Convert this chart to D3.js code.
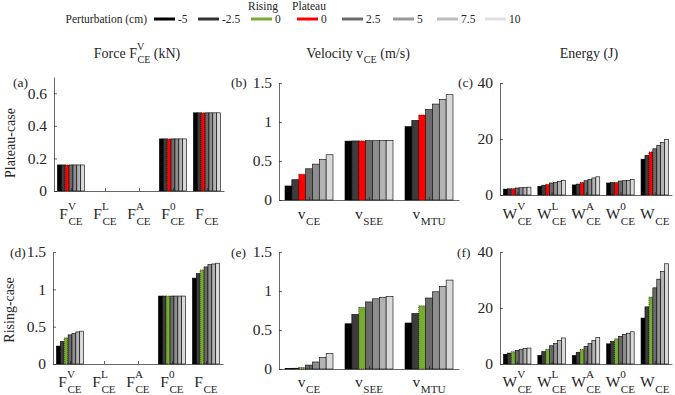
<!DOCTYPE html>
<html>
<head>
<meta charset="utf-8">
<script src="https://d3js.org/d3.v7.min.js"></script>
<style>
  body { margin: 0; background: #fff; }
  svg text { font-family: "Liberation Serif", "Times New Roman", serif; fill: #262626; white-space: pre; }
</style>
</head>
<body>
<svg id="chart" width="675" height="395"></svg>
<script>
// perturbation levels (cm), one bar per level in every group
const perturbations = ['-5', '-2.5', '0', '2.5', '5', '7.5', '10'];
const barColors = ['#000000', '#3c3c3c', null, '#6b6b6b', '#8e8e8e', '#b3b3b3', '#dadada'];
const risingColor = '#77ac30';
const plateauColor = '#ff0000';

// legend entries
const legendLabels = ['-5', '-2.5', '0', '0', '2.5', '5', '7.5', '10'];
const legendColors = ['#000000', '#333333', risingColor, plateauColor, '#6b6b6b', '#999999', '#bdbdbd', '#e0e0e0'];
const legendHeads = ['', '', 'Rising', 'Plateau', '', '', '', ''];

// tick labels: [base, superscript, subscript]
const forceLabels = [['F', 'V', 'CE'], ['F', 'L', 'CE'], ['F', 'A', 'CE'], ['F', '0', 'CE'], ['F', '', 'CE']];
const velocityLabels = [['v', '', 'CE'], ['v', '', 'SEE'], ['v', '', 'MTU']];
const energyLabels = [['W', 'V', 'CE'], ['W', 'L', 'CE'], ['W', 'A', 'CE'], ['W', '0', 'CE'], ['W', '', 'CE']];

// plateau case
const plateauForce = [
  [0.16, 0.16, 0.16, 0.16, 0.16, 0.16, 0.16],
  [0, 0, 0, 0, 0, 0, 0],
  [0, 0, 0, 0, 0, 0, 0],
  [0.32, 0.32, 0.32, 0.32, 0.32, 0.32, 0.32],
  [0.48, 0.48, 0.48, 0.48, 0.48, 0.48, 0.48]
];
const plateauVelocity = [
  [0.18, 0.26, 0.33, 0.40, 0.46, 0.52, 0.58],
  [0.755, 0.757, 0.758, 0.76, 0.76, 0.762, 0.763],
  [0.94, 1.02, 1.09, 1.16, 1.23, 1.29, 1.35]
];
const plateauEnergy = [
  [2.1, 2.2, 2.3, 2.5, 2.6, 2.7, 2.8],
  [3.1, 3.5, 3.8, 4.3, 4.5, 4.9, 5.2],
  [3.6, 3.9, 4.5, 5.1, 5.6, 6.1, 6.5],
  [4.3, 4.4, 4.5, 5.0, 5.1, 5.2, 5.5],
  [12.8, 14.2, 15.4, 16.5, 17.7, 18.8, 19.9]
];

// rising case
const risingForce = [
  [0.24, 0.30, 0.35, 0.39, 0.41, 0.43, 0.44],
  [0, 0, 0, 0, 0, 0, 0],
  [0, 0, 0, 0, 0, 0, 0],
  [0.91, 0.91, 0.91, 0.91, 0.91, 0.91, 0.91],
  [1.15, 1.21, 1.26, 1.30, 1.33, 1.34, 1.35]
];
const risingVelocity = [
  [0.005, 0.01, 0.02, 0.05, 0.09, 0.15, 0.20],
  [0.58, 0.70, 0.79, 0.86, 0.90, 0.92, 0.93],
  [0.59, 0.71, 0.81, 0.91, 0.99, 1.06, 1.14]
];
const risingEnergy = [
  [3.5, 3.9, 4.4, 4.9, 5.2, 5.5, 5.7],
  [3.1, 4.4, 5.3, 6.5, 7.4, 8.4, 9.3],
  [3.0, 4.2, 5.2, 6.3, 7.3, 8.4, 9.4],
  [7.2, 8.1, 9.0, 9.9, 10.5, 11.0, 11.5],
  [16.4, 20.4, 23.9, 27.2, 30.3, 33.1, 35.8]
];

const panels = [
  { tag: '(a)', data: plateauForce, labels: forceLabels, max: 0.7, ticks: [0, 0.2, 0.4, 0.6], mid: plateauColor, x: [54, 224], y: [77, 191], tagX: 13, row: 0 },
  { tag: '(b)', data: plateauVelocity, labels: velocityLabels, max: 1.5, ticks: [0, 0.5, 1, 1.5], mid: plateauColor, x: [279, 459], y: [83, 200], tagX: 231, row: 0 },
  { tag: '(c)', data: plateauEnergy, labels: energyLabels, max: 40, ticks: [0, 20, 40], mid: plateauColor, x: [500, 672], y: [83, 195], tagX: 458, row: 0 },
  { tag: '(d)', data: risingForce, labels: forceLabels, max: 1.5, ticks: [0, 0.5, 1, 1.5], mid: risingColor, x: [53, 223], y: [252, 364], tagX: 10, row: 1 },
  { tag: '(e)', data: risingVelocity, labels: velocityLabels, max: 1.5, ticks: [0, 0.5, 1, 1.5], mid: risingColor, x: [279, 459], y: [252, 369], tagX: 231, row: 1 },
  { tag: '(f)', data: risingEnergy, labels: energyLabels, max: 40, ticks: [0, 20, 40], mid: risingColor, x: [500, 672], y: [252, 364], tagX: 457, row: 1 }
];
const rowLabelY = [219, 387];
const rowTagY = [87, 257];

const svg = d3.select('#chart');
const axisColor = '#262626';
const serif = '"Liberation Serif", "Times New Roman", serif';

// text with stacked super/subscripts; parts: strings or [sup, sub]
function texText(parent, x, y, parts, size, anchor) {
  const g = parent.append('g');
  const small = size * 0.72;
  let cx = 0;
  parts.forEach(p => {
    if (typeof p === 'string') {
      const t = g.append('text').attr('x', cx).attr('y', 0)
        .attr('font-family', serif).attr('font-size', size).text(p);
      cx += t.node().getComputedTextLength();
    } else {
      let w = 0;
      if (p[0]) {
        const s = g.append('text').attr('x', cx).attr('y', -0.6 * size)
          .attr('font-family', serif).attr('font-size', small).text(p[0]);
        w = Math.max(w, s.node().getComputedTextLength());
      }
      if (p[1]) {
        const s = g.append('text').attr('x', cx + 0.5).attr('y', 0.38 * size)
          .attr('font-family', serif).attr('font-size', small).text(p[1]);
        w = Math.max(w, s.node().getComputedTextLength() + 0.5);
      }
      cx += w;
    }
  });
  const shift = anchor === 'middle' ? -cx / 2 : 0;
  g.attr('transform', `translate(${x + shift},${y})`);
  return g;
}

panels.forEach(p => {
  const x0 = d3.scaleBand().domain(d3.range(p.data.length)).range(p.x)
    .paddingInner(0.2).paddingOuter(0.1);
  const x1 = d3.scaleBand().domain(perturbations).range([0, x0.bandwidth()]);
  const y = d3.scaleLinear().domain([0, p.max]).range([p.y[1], p.y[0]]);

  const g = svg.append('g');

  // bars
  const groups = g.selectAll('g.grp').data(p.data).join('g')
    .attr('transform', (d, i) => `translate(${x0(i)},0)`);
  groups.selectAll('rect').data(d => d.map((v, j) => ({ v, j }))).join('rect')
    .attr('x', d => x1(perturbations[d.j]))
    .attr('y', d => y(d.v))
    .attr('width', x1.bandwidth())
    .attr('height', d => y(0) - y(d.v))
    .attr('fill', d => barColors[d.j] || p.mid)
    .attr('stroke', '#000')
    .attr('stroke-width', 0.6)
    .attr('stroke-dasharray', d => barColors[d.j] ? null : '1,1');

  // y axis, ticks pointing inwards
  const ya = g.append('g').attr('transform', `translate(${p.x[0]},0)`)
    .call(d3.axisLeft(y).tickValues(p.ticks).tickFormat(d3.format('~g'))
      .tickSizeInner(-3).tickSizeOuter(0).tickPadding(7));
  ya.attr('font-family', serif).attr('font-size', 15.5);
  ya.selectAll('.tick text').attr('font-family', serif).attr('font-size', 15.5)
    .attr('fill', axisColor);

  // x axis
  const xa = g.append('g').attr('transform', `translate(0,${p.y[1]})`)
    .call(d3.axisBottom(d3.scaleLinear().domain(p.x).range(p.x))
      .tickValues(d3.range(p.data.length).map(i => x0(i) + x0.bandwidth() / 2))
      .tickFormat('').tickSizeInner(-3).tickSizeOuter(0));
  [ya, xa].forEach(a => {
    a.select('.domain').attr('stroke', axisColor).attr('stroke-width', 0.7);
    a.selectAll('.tick line').attr('stroke', axisColor).attr('stroke-width', 0.7);
  });

  // group labels
  p.labels.forEach((l, i) => {
    texText(svg, x0(i) + x0.bandwidth() / 2, rowLabelY[p.row], [l[0], [l[1], l[2]]], 15.5, 'middle');
  });

  // panel tag
  svg.append('text').attr('x', p.tagX).attr('y', rowTagY[p.row])
    .attr('font-family', serif).attr('font-size', 13.5).text(p.tag);
});

// column titles
texText(svg, 137, 58, ['Force F', ['V', 'CE'], ' (kN)'], 14, 'middle');
texText(svg, 358, 58, ['Velocity v', ['', 'CE'], ' (m/s)'], 14, 'middle');
texText(svg, 589, 58, ['Energy (J)'], 14, 'middle');

// row titles
svg.append('text').attr('transform', 'translate(15,143) rotate(-90)')
  .attr('font-family', serif).attr('text-anchor', 'middle').attr('font-size', 14).text('Plateau-case');
svg.append('text').attr('transform', 'translate(14,310) rotate(-90)')
  .attr('font-family', serif).attr('text-anchor', 'middle').attr('font-size', 14).text('Rising-case');

// legend
svg.append('text').attr('x', 147).attr('y', 23).attr('text-anchor', 'end')
  .attr('font-family', serif).attr('font-size', 11.5).text('Perturbation (cm)');
const legendX = [154, 198, 251, 297, 342, 393, 437, 485];
const leg = svg.append('g');
legendLabels.forEach((lab, i) => {
  const lx = legendX[i];
  leg.append('line').attr('x1', lx).attr('x2', lx + 21).attr('y1', 19).attr('y2', 19)
    .attr('stroke', legendColors[i]).attr('stroke-width', 3);
  leg.append('text').attr('x', lx + 24).attr('y', 23).attr('font-family', serif)
    .attr('font-size', 11.5).text(lab);
  if (legendHeads[i]) {
    leg.append('text').attr('x', lx + 12).attr('y', 10).attr('text-anchor', 'middle')
      .attr('font-family', serif).attr('font-size', 11.5).text(legendHeads[i]);
  }
});
</script>
</body>
</html>
